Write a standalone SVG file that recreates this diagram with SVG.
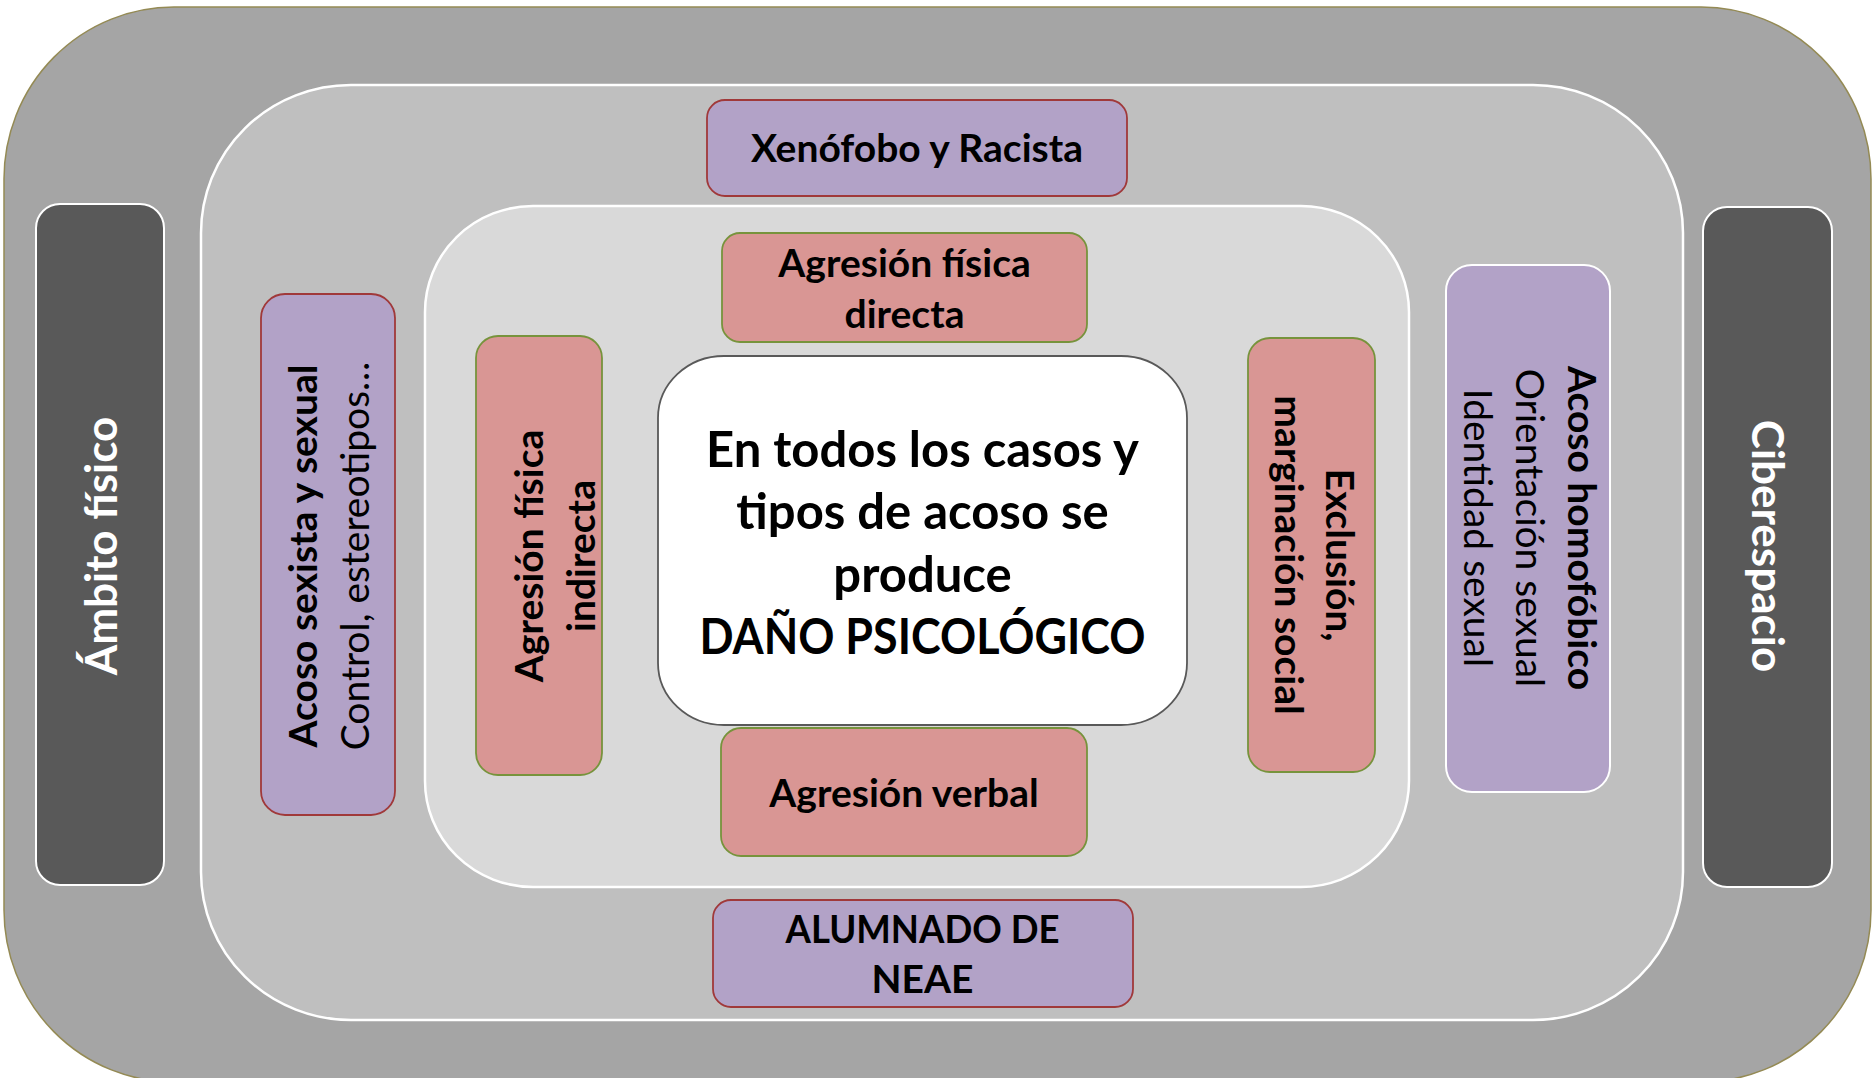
<svg xmlns="http://www.w3.org/2000/svg" width="1872" height="1078" viewBox="0 0 1872 1078">
<style>
.t{font-family:Lato,"Liberation Sans",sans-serif;font-size:39px;fill:#000;text-anchor:middle}
.b{font-weight:bold}
.r{font-weight:normal}
.w{fill:#fff;font-size:44px}
.big{font-size:49px}
.purple{fill:#b2a2c7;stroke:#a0393a;stroke-width:1.8}
.purpleW{fill:#b2a2c7;stroke:#fff;stroke-width:2}
.pink{fill:#d99694;stroke:#77933c;stroke-width:1.8}
.dark{fill:#595959;stroke:#fff;stroke-width:2}
</style>
<rect width="1872" height="1078" fill="#fff"/>
<g id="layer-outer">
<rect x="4" y="7" width="1867" height="1075" rx="170" ry="172" fill="#a5a5a5" stroke="#948a54" stroke-width="1.5"/>
</g>
<g id="layer-middle">
<rect x="201" y="85" width="1482" height="935" rx="150" ry="148" fill="#bfbfbf" stroke="#fff" stroke-width="2.5"/>
</g>
<g id="layer-inner">
<rect x="425" y="206" width="984" height="681" rx="108" ry="106" fill="#d9d9d9" stroke="#fff" stroke-width="2.5"/>
</g>
<g id="connectors"></g>
<g id="ambito-fisico">
<rect class="dark" x="36" y="204" width="128" height="681" rx="24" ry="24"/>
<text class="t b w" transform="translate(117,546) rotate(-90)">Ámbito físico</text>
</g>
<g id="ciberespacio">
<rect class="dark" x="1703" y="207" width="129" height="680" rx="24" ry="24"/>
<text class="t b w" transform="translate(1752,546) rotate(90)">Ciberespacio</text>
</g>
<g id="acoso-sexista">
<rect class="purple" x="261" y="294" width="134" height="521" rx="24" ry="24"/>
<text class="t" transform="translate(317,556) rotate(-90)"><tspan class="b" x="0" y="0">Acoso sexista y sexual</tspan><tspan class="r" x="0" y="52">Control, estereotipos…</tspan></text>
</g>
<g id="agresion-fisica-indirecta">
<rect class="pink" x="476" y="336" width="126" height="439" rx="22" ry="22"/>
<text class="t b" transform="translate(543,556) rotate(-90)"><tspan x="0" y="0">Agresión física</tspan><tspan x="0" y="52">indirecta</tspan></text>
</g>
<g id="xenofobo">
<rect class="purple" x="707" y="100" width="420" height="96" rx="18" ry="18"/>
<text class="t b" x="917" y="162">Xenófobo y Racista</text>
</g>
<g id="agresion-fisica-directa">
<rect class="pink" x="722" y="233" width="365" height="109" rx="18" ry="18"/>
<text class="t b"><tspan x="904.5" y="277">Agresión física</tspan><tspan x="904.5" y="328">directa</tspan></text>
</g>
<g id="dano-psicologico">
<rect x="658" y="356" width="529" height="369" rx="66" ry="62" fill="#fff" stroke="#595959" stroke-width="1.8"/>
<text class="t b big"><tspan x="922.5" y="467">En todos los casos y</tspan><tspan x="922.5" y="529">tipos de acoso se</tspan><tspan x="922.5" y="592">produce</tspan></text>
<text class="t b big" x="922.5" y="654" textLength="446" lengthAdjust="spacingAndGlyphs">DAÑO PSICOLÓGICO</text>
</g>
<g id="agresion-verbal">
<rect class="pink" x="721" y="728" width="366" height="128" rx="20" ry="20"/>
<text class="t b" x="904" y="807">Agresión verbal</text>
</g>
<g id="exclusion">
<rect class="pink" x="1248" y="338" width="127" height="434" rx="22" ry="22"/>
<text class="t b" transform="translate(1326,555) rotate(90)"><tspan x="0" y="0">Exclusión,</tspan><tspan x="0" y="51">marginación social</tspan></text>
</g>
<g id="acoso-homofobico">
<rect class="purpleW" x="1446" y="265" width="164" height="527" rx="26" ry="26"/>
<text class="t" transform="translate(1568,528) rotate(90)"><tspan class="b" x="0" y="0">Acoso homofóbico</tspan><tspan class="r" x="0" y="52">Orientación sexual</tspan><tspan class="r" x="0" y="104">Identidad sexual</tspan></text>
</g>
<g id="alumnado-neae">
<rect class="purple" x="713" y="900" width="420" height="107" rx="18" ry="18"/>
<text class="t b" x="922.5" y="943" textLength="274" lengthAdjust="spacingAndGlyphs">ALUMNADO DE</text>
<text class="t b" x="922.5" y="993">NEAE</text>
</g>
</svg>
